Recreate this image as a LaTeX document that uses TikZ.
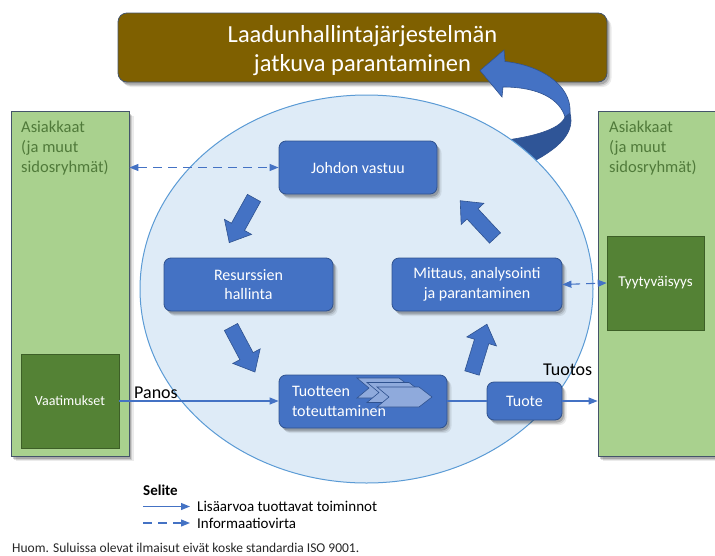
\documentclass[tikz,border=0pt]{standalone}
\usepackage{fontspec}
\setmainfont{Carlito}
\usetikzlibrary{shadows,arrows.meta}

\definecolor{titlefill}{HTML}{7F6000}
\definecolor{slateedge}{HTML}{44546A}
\definecolor{custfill}{HTML}{A9D18E}
\definecolor{custdark}{HTML}{548235}
\definecolor{custedge}{HTML}{3D5F27}
\definecolor{custtext}{HTML}{507A3A}
\definecolor{procfill}{HTML}{4472C4}
\definecolor{procedge}{HTML}{2F528F}
\definecolor{procback}{HTML}{2F5597}
\definecolor{chevfill}{HTML}{8FAADC}
\definecolor{cyclefill}{HTML}{DEEBF7}
\definecolor{cycleedge}{HTML}{5B9BD5}
\definecolor{notetext}{HTML}{262626}

\tikzset{
  % layered shadows give a soft edge
  shadowed/.style={
    drop shadow={shadow xshift=4.5pt,shadow yshift=-5pt,opacity=.08,fill=black},
    drop shadow={shadow xshift=3.2pt,shadow yshift=-3.8pt,opacity=.12,fill=black},
    drop shadow={shadow xshift=2pt,shadow yshift=-2.5pt,opacity=.18,fill=black}},
  custbox/.style={draw=slateedge, line width=.8pt, fill=custfill, shadowed},
  custinner/.style={draw=custedge, line width=.6pt, fill=custdark, text=white,
    font=\fontsize{14}{17}\selectfont},
  custlabel/.style={anchor=north west, inner sep=0pt, align=left, text=custtext,
    font=\fontsize{16.5}{20}\selectfont},
  procbox/.style={draw=procedge, line width=.8pt, fill=procfill, rounded corners=7pt,
    text=white, align=center, font=\fontsize{16}{19.5}\selectfont, shadowed},
  blockarrow/.style={draw=procedge, line width=.6pt, fill=procfill},
  flowline/.style={draw=procfill, line width=1.1pt},
  flow/.style={flowline, ->},
  infoline/.style={flowline, dash pattern=on 9pt off 6pt},
  chevron/.style={draw=procedge, line width=.6pt, fill=chevfill},
  plaintext/.style={anchor=base west, inner sep=0pt},
  pics/fatarrow/.style={code={
    \draw[blockarrow] (0,-7.5) -- (33,-7.5) -- (33,-15.5) -- (51,0) -- (33,15.5)
      -- (33,7.5) -- (0,7.5) -- cycle;}},
  pics/chev/.style={code={
    \draw[chevron] (0,0) -- (42,0) -- (55,10) -- (42,20) -- (0,20) -- (12,10) -- cycle;}},
}

\begin{document}
\begin{tikzpicture}[x=1pt, y=-1pt, >={Triangle[length=9pt,width=7pt]}]
\useasboundingbox (0,0) rectangle (715,555);
\clip (0,0) rectangle (715,555);

% heading box
\node[draw=slateedge, line width=.8pt, fill=titlefill, rounded corners=9pt,
      minimum width=489pt, minimum height=69pt, shadowed] (title) at (362.5,47.5) {};
\node[text=white, align=center, font=\fontsize{24.5}{29.5}\selectfont]
      (titletext) at (362.5,50.5) {Laadunhallintajärjestelmän\\jatkuva parantaminen};

% customers on both sides
\node[custbox, minimum width=118pt, minimum height=345pt] (leftcust) at (70,283.5) {};
\node[custbox, minimum width=124pt, minimum height=345pt] (rightcust) at (660,283.5) {};
\node[custlabel] (leftlabel) at (21,120.5) {Asiakkaat\\(ja muut\\sidosryhmät)};
\node[custlabel] (rightlabel) at (609,120.5) {Asiakkaat\\(ja muut\\sidosryhmät)};
\node[custinner, minimum width=98pt, minimum height=94pt] (vaat) at (70,401) {Vaatimukset};
\node[custinner, minimum width=97pt, minimum height=94pt,
      font=\fontsize{15}{18}\selectfont] (tyyt) at (655.5,283) {Tyytyväisyys};

% improvement loop, back face (partly behind the cycle)
\filldraw[fill=procback, draw=procedge, line width=.6pt]
  (565,117) -- (570,113) .. controls (576,135) and (555,152) .. (520,168)
  -- (490,142) .. controls (530,138) and (560,130) .. (565,117) -- cycle;

% process cycle
\draw[draw=cycleedge, line width=1pt, fill=cyclefill]
  (366.5,289) ellipse [x radius=226.5pt, y radius=194pt];

% improvement loop, front face with head
\filldraw[fill=procfill, draw=procedge, line width=.6pt]
  (505,61.5) .. controls (540,65) and (572,85) .. (570,113)
  -- (565,117) .. controls (560,100) and (540,87) .. (503,87)
  -- (502,97) -- (480,70.5) -- (504,50) -- cycle;

% process steps
\node[procbox, minimum width=158pt, minimum height=53pt] (johdon) at (358,167.5) {Johdon vastuu};
\node[procbox, minimum width=169pt, minimum height=53pt] (resurssit) at (248.5,284.5) {Resurssien\\hallinta};
\node[procbox, minimum width=170pt, minimum height=53pt] (mittaus) at (477,284.5) {Mittaus, analysointi\\ja parantaminen};
\node[procbox, minimum width=168pt, minimum height=53pt, align=left, text width=142pt]
      (toteutus) at (363,401.5) {Tuotteen\\toteuttaminen};
\node[procbox, minimum width=75pt, minimum height=38pt] (tuote) at (524.5,401) {Tuote};

% cycle arrows
\pic[rotate=241] at (254,198) {fatarrow};
\pic[rotate=-62] at (231,327) {fatarrow};
\pic[rotate=73] at (472,373) {fatarrow};
\pic[rotate=133] at (495,238) {fatarrow};

% process chevrons
\pic at (357,378) {chev};
\pic at (367,382.5) {chev};
\pic at (377,387) {chev};

% flows
\draw[infoline, <->] (johdon.west -| leftcust.east) -- (johdon.west);
\draw[infoline, <->] (mittaus.east) -- (tyyt.west);
\draw[flow] (vaat.east) -- (vaat.east -| toteutus.west);
\draw[flowline] (tuote.west -| toteutus.east) -- (tuote.west);
\draw[flow] (tuote.east) -- (tuote.east -| rightcust.west);
\node[plaintext, font=\fontsize{18}{21}\selectfont] (panos) at (134,398) {Panos};
\node[plaintext, font=\fontsize{18}{21}\selectfont] (tuotos) at (543,375) {Tuotos};

% legend
\node[plaintext, font=\bfseries\fontsize{15}{18}\selectfont] (selite) at (143,495) {Selite};
\coordinate (lega) at (143,506.5);
\coordinate (legb) at (190,506.5);
\draw[flow] (lega) -- (legb);
\node[plaintext, font=\fontsize{15}{18}\selectfont] (legvalue) at (197,511) {Lisäarvoa tuottavat toiminnot};
\coordinate (legc) at (143,523);
\coordinate (legd) at (190,523);
\draw[infoline, ->] (legc) -- (legd);
\node[plaintext, font=\fontsize{15}{18}\selectfont] (leginfo) at (197,528) {Informaatiovirta};
\node[plaintext, text=notetext, font=\fontsize{13.5}{16}\selectfont] (huom) at (12,552)
  {Huom. Suluissa olevat ilmaisut eivät koske standardia ISO 9001.};
\end{tikzpicture}
\end{document}
